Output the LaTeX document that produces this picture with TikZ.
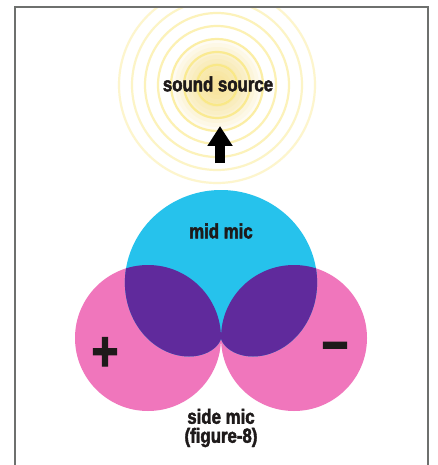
\documentclass[tikz,border=0pt]{standalone}
\usepackage{fontspec}
\setmainfont{Liberation Sans}[FakeStretch=0.82, BoldFeatures={FakeBold=2.2}]
\usetikzlibrary{arrows.meta}
\definecolor{midc}{RGB}{38,194,236}
\definecolor{sidec}{RGB}{240,118,188}
\definecolor{overc}{RGB}{96,42,156}
\definecolor{ringc}{RGB}{250,232,130}
\definecolor{glowc}{RGB}{248,214,90}
\definecolor{txt}{RGB}{30,26,26}
\definecolor{framec}{RGB}{110,112,110}
\begin{document}
\begin{tikzpicture}[x=1pt,y=-1pt,
  lab/.style={font=\bfseries\fontsize{20.5}{19}\selectfont, text=txt, align=center, inner sep=0pt},
  sign/.style={font=\bfseries\fontsize{56}{56}\selectfont, text=txt, inner sep=0pt},
  ring/.style={draw=ringc, line width=2.2pt},
  pointer/.style={draw=black, line width=10pt, -{Triangle[width=24pt,length=20pt]}}]
\useasboundingbox (0,0) rectangle (437,465);
\fill[white] (0,0) rectangle (437,465);
% sound source glow and rings
\begin{scope}
\clip (16,8) rectangle (427,465);
\foreach \r in {46,42,...,6} \fill[glowc, opacity=0.08] (217,85) circle (\r);
\foreach \r/\o in {20/0.9,33/0.8,46/0.7,59/0.6,72/0.55,85/0.45,98/0.4}
  \draw[ring, opacity=\o] (217,85) circle (\r);
\end{scope}
% side mic (figure-8)
\fill[sidec] (148,338) circle (73);
\fill[sidec] (294,338) circle (73);
% mid mic (cardioid)
\def\cardioid{plot[domain=0:360,samples=241,variable=\t,smooth]
  ({221+74*(1+cos(\t))*sin(\t)},{338-74*(1+cos(\t))*cos(\t)}) -- cycle}
\fill[midc] \cardioid;
\begin{scope}
\clip \cardioid;
\fill[overc] (148,338) circle (73) (294,338) circle (73);
\end{scope}
% labels
\node[lab] (src) at (218,84) {sound source};
\coordinate (abase) at (220,163);
\coordinate (atip) at (220,126);
\draw[pointer] (abase) -- (atip);
\node[lab] (mid) at (221,231) {mid mic};
\node[lab] (side) at (221,428) {side mic\\(figure-8)};
\node[sign] (plus) at (105,354) {+};
\node[sign] (minus) at (335,353) {−};
% frame
\draw[framec, line width=1.5pt] (15,465) -- (15,7) -- (428,7) -- (428,465);
\end{tikzpicture}
\end{document}
